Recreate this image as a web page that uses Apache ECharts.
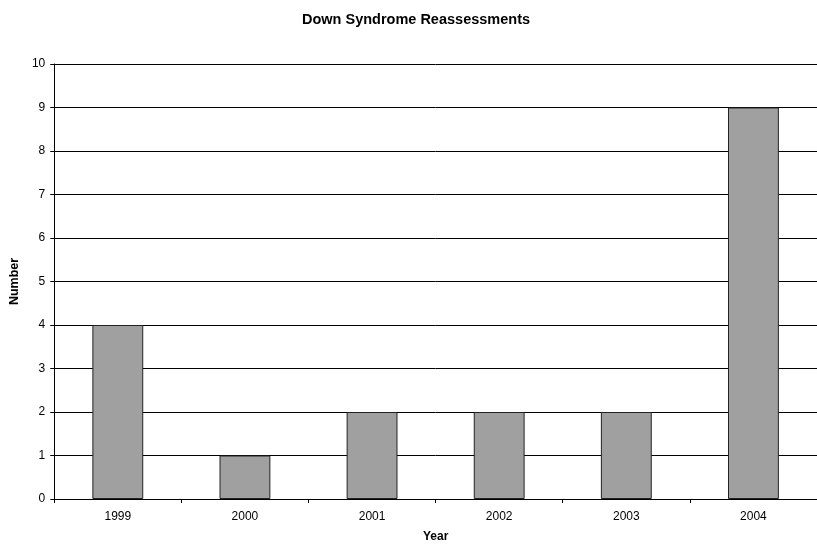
<!DOCTYPE html>
<html><head><meta charset="utf-8">
<script src="https://cdn.jsdelivr.net/npm/echarts@6/dist/echarts.min.js"></script>
<style>html,body{margin:0;padding:0;background:#fff;overflow:hidden}#c{width:817px;height:548px}</style>
</head><body><div id="c"></div>
<script>
const categories = ['1999','2000','2001','2002','2003','2004'];
const values = [4, 1, 2, 2, 2, 9];
const yTicks = {min: 0, max: 10, interval: 1};

const chart = echarts.init(document.getElementById('c'), null, {renderer: 'canvas'});
const font = "'Liberation Sans', Arial, sans-serif";
chart.setOption({
  animation: false,
  backgroundColor: '#fff',
  title: {
    text: 'Down Syndrome Reassessments',
    left: 416, top: 12, textAlign: 'center', padding: 0,
    textStyle: {fontFamily: font, fontSize: 14.5, fontWeight: 'bold', color: '#000'}
  },
  grid: {left: 54, top: 64, width: 770, height: 441, containLabel: false},
  xAxis: {
    type: 'category', data: categories,
    name: 'Year', nameLocation: 'middle', nameGap: 32,
    nameTextStyle: {fontFamily: font, fontSize: 12, fontWeight: 'bold', color: '#000'},
    axisLine: {lineStyle: {color: '#000', width: 1}},
    axisTick: {show: true, length: 4, lineStyle: {color: '#000'}},
    axisLabel: {fontFamily: font, fontSize: 12, color: '#000', margin: 12},
    splitLine: {show: false}
  },
  yAxis: {
    type: 'value', min: yTicks.min, max: yTicks.max, interval: yTicks.interval,
    name: 'Number', nameLocation: 'middle', nameGap: 29,
    nameTextStyle: {fontFamily: font, fontSize: 12.5, fontWeight: 'bold', color: '#000'},
    axisLine: {show: true, lineStyle: {color: '#000', width: 1}},
    axisTick: {show: true, length: 4, lineStyle: {color: '#000'}},
    axisLabel: {fontFamily: font, fontSize: 12, color: '#000', margin: 9},
    splitLine: {show: true, lineStyle: {color: '#000', width: 1}}
  },
  series: [{
    type: 'bar', data: values, barWidth: '40%',
    itemStyle: {color: '#a0a0a0', borderColor: '#222', borderWidth: 1}
  }]
});
</script></body></html>
